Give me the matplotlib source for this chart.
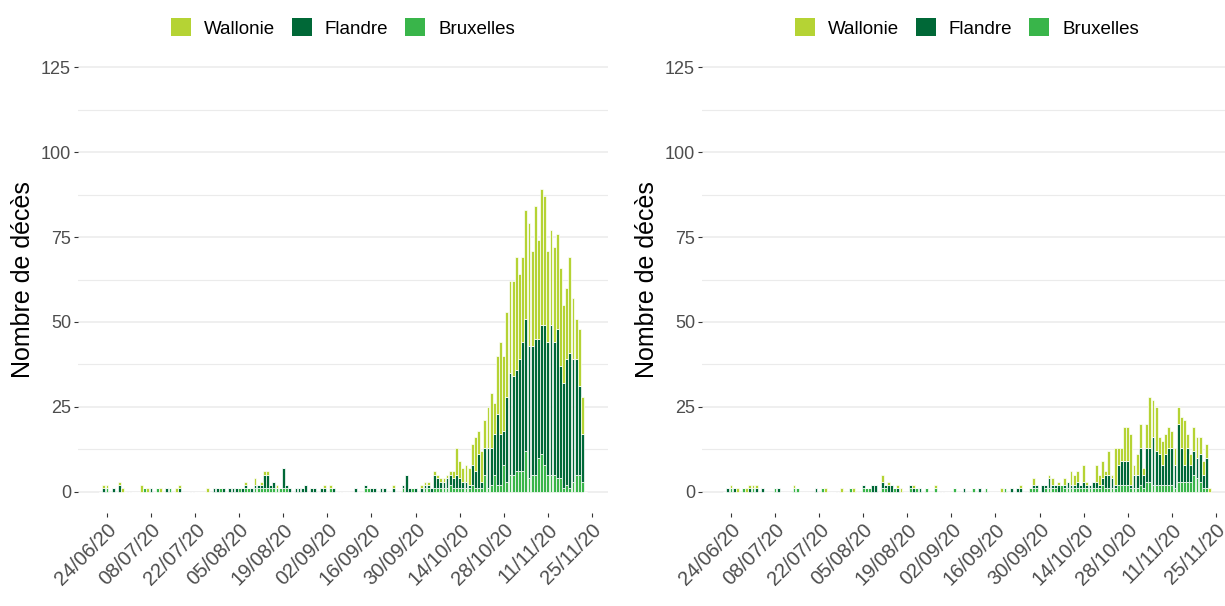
import numpy as np
import pandas as pd
import matplotlib
matplotlib.use("Agg")
import matplotlib.pyplot as plt
import matplotlib.dates as mdates
from matplotlib.patches import Patch

plt.rcParams['font.family'] = ['Liberation Sans', 'DejaVu Sans']

# daily deaths, 22/06/20 -> 23/11/20
dates = pd.date_range('2020-06-22', '2020-11-23', freq='D')

# left panel
wal_left = [0, 1, 1, 0, 0, 0, 1, 1, 0, 0,
            0, 0, 0, 2, 0, 1, 0, 0, 0, 1,
            0, 0, 0, 0, 1, 1, 0, 0, 0, 0,
            0, 0, 0, 0, 1, 0, 0, 0, 0, 0,
            0, 0, 0, 0, 0, 0, 1, 0, 0, 2,
            0, 1, 1, 1, 0, 0, 1, 0, 0, 0,
            0, 0, 0, 0, 0, 0, 0, 0, 0, 0,
            0, 1, 0, 1, 0, 0, 0, 0, 0, 0,
            0, 0, 0, 0, 0, 0, 0, 0, 0, 0,
            0, 0, 0, 1, 0, 0, 0, 0, 0, 0,
            0, 0, 1, 1, 1, 0, 1, 1, 1, 1,
            1, 1, 2, 8, 5, 4, 5, 5, 6, 10,
            7, 9, 8, 12, 16, 9, 17, 27, 22, 25,
            27, 28, 33, 25, 25, 32, 36, 28, 39, 29,
            40, 38, 27, 28, 28, 28, 29, 23, 21, 28,
            18, 12, 17, 11, 0]
fla_left = [0, 1, 0, 0, 1, 0, 2, 0, 0, 0,
            0, 0, 0, 0, 0, 0, 1, 0, 0, 0,
            0, 1, 0, 0, 0, 1, 0, 0, 0, 0,
            0, 0, 0, 0, 0, 0, 1, 1, 0, 1,
            0, 1, 1, 1, 0, 1, 1, 0, 1, 1,
            1, 1, 4, 4, 1, 2, 0, 0, 6, 1,
            1, 0, 1, 1, 1, 2, 0, 1, 1, 0,
            1, 1, 0, 0, 1, 0, 0, 0, 0, 0,
            0, 1, 0, 0, 1, 0, 1, 1, 0, 1,
            1, 0, 0, 1, 0, 0, 1, 5, 1, 0,
            1, 0, 1, 1, 1, 1, 4, 3, 2, 2,
            3, 3, 3, 4, 3, 2, 2, 1, 6, 5,
            10, 2, 8, 12, 11, 12, 21, 15, 10, 25,
            30, 29, 30, 33, 38, 39, 39, 38, 40, 35,
            38, 41, 39, 44, 39, 44, 33, 31, 37, 40,
            36, 34, 26, 14, 0]
bru_left = [0, 0, 1, 0, 0, 0, 0, 0, 0, 0,
            0, 0, 0, 0, 1, 0, 0, 0, 1, 0,
            0, 0, 1, 0, 0, 0, 0, 0, 0, 0,
            0, 0, 0, 0, 0, 0, 0, 0, 1, 0,
            0, 0, 0, 0, 1, 0, 1, 1, 0, 1,
            1, 1, 1, 1, 1, 1, 1, 1, 1, 1,
            0, 0, 0, 0, 0, 0, 0, 0, 0, 0,
            0, 0, 0, 1, 0, 0, 0, 0, 0, 0,
            0, 0, 0, 0, 1, 1, 0, 0, 0, 0,
            0, 0, 0, 0, 0, 0, 1, 0, 0, 1,
            0, 0, 0, 1, 1, 0, 1, 1, 1, 1,
            1, 2, 1, 1, 1, 1, 1, 1, 2, 1,
            1, 1, 5, 1, 2, 5, 2, 2, 8, 3,
            5, 5, 6, 6, 6, 12, 4, 5, 5, 10,
            11, 8, 5, 5, 5, 4, 4, 1, 2, 1,
            3, 5, 5, 3, 0]

# right panel
wal_right = [0, 0, 1, 0, 1, 0, 0, 1, 1, 1,
             1, 0, 0, 0, 0, 0, 0, 0, 0, 0,
             0, 0, 1, 0, 0, 0, 0, 0, 0, 0,
             0, 0, 1, 0, 0, 0, 0, 1, 0, 0,
             0, 1, 0, 0, 0, 0, 0, 0, 0, 0,
             2, 0, 1, 0, 0, 1, 1, 0, 0, 0,
             1, 0, 0, 0, 0, 0, 0, 1, 0, 0,
             0, 0, 0, 0, 0, 0, 0, 0, 0, 0,
             0, 0, 0, 0, 0, 0, 0, 0, 1, 0,
             0, 0, 0, 0, 1, 0, 0, 0, 2, 0,
             0, 0, 0, 1, 2, 0, 1, 0, 2, 0,
             4, 3, 3, 0, 5, 1, 0, 0, 5, 3,
             5, 1, 7, 1, 11, 5, 4, 10, 10, 15,
             3, 6, 7, 2, 7, 15, 11, 13, 5, 7,
             6, 6, 5, 5, 5, 9, 13, 4, 3, 7,
             6, 5, 4, 4, 1]
fla_right = [0, 1, 0, 1, 0, 0, 0, 0, 1, 0,
             1, 0, 1, 0, 0, 0, 0, 1, 0, 0,
             0, 0, 0, 0, 0, 0, 0, 0, 0, 1,
             0, 0, 0, 0, 0, 0, 0, 0, 0, 0,
             0, 0, 0, 0, 1, 0, 0, 2, 2, 0,
             2, 1, 2, 2, 0, 1, 0, 0, 0, 1,
             1, 0, 1, 0, 0, 0, 0, 0, 0, 0,
             0, 0, 0, 0, 0, 0, 1, 0, 0, 0,
             0, 1, 0, 0, 0, 0, 0, 0, 0, 0,
             0, 1, 0, 1, 1, 0, 0, 0, 1, 1,
             0, 2, 1, 3, 1, 1, 2, 0, 1, 2,
             1, 1, 2, 1, 2, 1, 1, 2, 2, 1,
             2, 4, 4, 3, 1, 6, 7, 7, 7, 1,
             4, 4, 11, 4, 10, 10, 14, 10, 9, 6,
             9, 11, 11, 7, 17, 10, 5, 10, 5, 7,
             6, 8, 4, 9, 0]
bru_right = [0, 0, 1, 0, 0, 0, 1, 0, 0, 1,
             0, 0, 0, 0, 0, 0, 1, 0, 0, 0,
             0, 0, 1, 1, 0, 0, 0, 0, 0, 0,
             0, 1, 0, 0, 0, 0, 0, 0, 0, 0,
             1, 0, 0, 0, 1, 1, 1, 0, 0, 0,
             1, 1, 0, 0, 1, 0, 0, 0, 0, 1,
             0, 1, 0, 0, 1, 0, 0, 1, 0, 0,
             0, 0, 0, 1, 0, 0, 0, 0, 0, 1,
             0, 0, 0, 1, 0, 0, 0, 0, 0, 1,
             0, 0, 0, 0, 0, 0, 0, 1, 1, 1,
             0, 0, 1, 1, 1, 1, 0, 2, 1, 1,
             1, 1, 1, 1, 1, 1, 1, 1, 1, 1,
             2, 1, 1, 1, 1, 2, 2, 2, 2, 1,
             1, 1, 2, 1, 3, 3, 2, 2, 2, 2,
             2, 2, 2, 1, 3, 3, 3, 3, 3, 5,
             4, 3, 1, 1, 0]

regions = ['Wallonie', 'Flandre', 'Bruxelles']
colors = {'Wallonie': '#b5d334', 'Flandre': '#006837', 'Bruxelles': '#39b54a'}
tick_dates = pd.date_range('2020-06-24', '2020-11-25', freq='14D')

x = mdates.date2num(dates)
ref = mdates.date2num(pd.Timestamp('2020-06-24'))

fig = plt.figure(figsize=(12.25, 6.06), dpi=100)
ax1 = fig.add_axes([78 / 1225, 1 - 513 / 606, 530 / 1225, 467 / 606])
ax2 = fig.add_axes([702 / 1225, 1 - 513 / 606, 530 / 1225, 467 / 606])


def draw(ax, wal, fla, bru):
    wal = np.array(wal)
    fla = np.array(fla)
    bru = np.array(bru)
    kw = dict(width=0.9, edgecolor='white', linewidth=0.5, zorder=3)
    ax.bar(x, bru, color=colors['Bruxelles'], **kw)
    ax.bar(x, fla, bottom=bru, color=colors['Flandre'], **kw)
    ax.bar(x, wal, bottom=bru + fla, color=colors['Wallonie'], **kw)

    ax.set_ylim(-6.25, 131.25)
    ax.set_xlim(ref - 9.2, ref + 159.1)
    ax.set_yticks([0, 25, 50, 75, 100, 125])
    ax.set_yticks([12.5, 37.5, 62.5, 87.5, 112.5], minor=True)
    ax.set_xticks(mdates.date2num(tick_dates))
    ax.set_xticklabels([d.strftime('%d/%m/%y') for d in tick_dates],
                       rotation=45, ha='right', va='top', rotation_mode='anchor')
    ax.grid(axis='y', which='major', color='#ebebeb', linewidth=1.1, zorder=0)
    ax.grid(axis='y', which='minor', color='#ebebeb', linewidth=0.8, zorder=0)
    ax.set_axisbelow(True)
    for s in ax.spines.values():
        s.set_visible(False)
    ax.tick_params(axis='y', which='major', length=3, width=0.8, color='#333333',
                   labelsize=13, labelcolor='#4d4d4d', pad=2)
    ax.tick_params(axis='x', which='major', length=3, width=0.8, color='#333333',
                   labelsize=14.5, labelcolor='#4d4d4d', pad=2)
    ax.tick_params(which='minor', length=0)
    ax.set_ylabel('Nombre de décès', fontsize=18, color='black', labelpad=4)

    handles = [Patch(facecolor=colors[r], edgecolor='none') for r in regions]
    ax.legend(handles, regions, loc='lower center', bbox_to_anchor=(0.5, 1.0),
              ncol=3, frameon=False, fontsize=13.5, handlelength=1.05,
              handleheight=1.05, handletextpad=0.7, columnspacing=0.9,
              borderaxespad=0.05)


draw(ax1, wal_left, fla_left, bru_left)
draw(ax2, wal_right, fla_right, bru_right)

fig.savefig('out.png', dpi=100)
